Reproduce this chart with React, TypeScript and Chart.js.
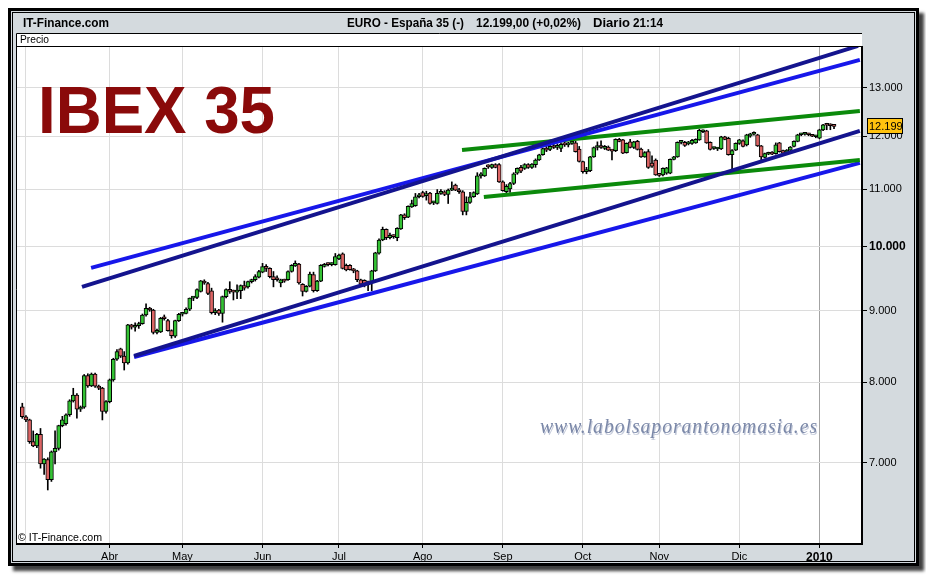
import React, { useEffect, useRef } from 'react';
import { Chart, registerables } from 'chart.js';

Chart.register(...registerables);

// Daily IBEX 35 candles: [open, high, low, close]
type Candle = [number, number, number, number];

const candlesFeb: Candle[] = [[7680, 7725, 7535, 7555]];

const candlesMar: Candle[] = [
  [7555, 7570, 7495, 7515], [7515, 7525, 7230, 7250], [7250, 7380, 7190, 7200], [7200, 7350, 7180, 7340],
  [7340, 7410, 6940, 6990], [6990, 7050, 6870, 7045], [7040, 7060, 6695, 6810], [6810, 7140, 6790, 7130],
  [7130, 7380, 6990, 7170], [7170, 7450, 7150, 7445], [7445, 7560, 7430, 7515], [7470, 7590, 7450, 7580],
  [7580, 7770, 7560, 7755], [7755, 7918, 7740, 7830], [7830, 7850, 7536, 7650], [7650, 7690, 7620, 7675],
  [7675, 8100, 7660, 8085], [8085, 8110, 7930, 7950], [7950, 8120, 7940, 8105], [8105, 8120, 7930, 7945],
  [7945, 7960, 7900, 7920], [7920, 7930, 7515, 7620], [7620, 7760, 7600, 7746],
];

const candlesAbr: Candle[] = [
  [7746, 8040, 7730, 8028], [8028, 8320, 8010, 8306], [8306, 8440, 8290, 8412], [8450, 8460, 8330, 8350],
  [8350, 8412, 8160, 8255], [8255, 8800, 8240, 8790], [8790, 8800, 8730, 8757], [8757, 8820, 8700, 8780],
  [8780, 8830, 8740, 8810], [8810, 8950, 8800, 8936], [8936, 9100, 8920, 9035], [9035, 9050, 8990, 9010],
  [9010, 9020, 8660, 8684], [8684, 8730, 8660, 8700], [8690, 8900, 8680, 8887], [8887, 8936, 8860, 8880],
  [8853, 8870, 8700, 8708], [8708, 8720, 8600, 8636], [8630, 8860, 8610, 8853], [8853, 8960, 8840, 8946],
];

const candlesMay: Candle[] = [
  [8946, 8970, 8920, 8950], [8960, 9040, 8950, 9020], [9020, 9190, 9000, 9187], [9187, 9210, 9150, 9200],
  [9200, 9330, 9180, 9320], [9290, 9460, 9280, 9453], [9440, 9470, 9400, 9420], [9410, 9430, 9240, 9260],
  [9300, 9340, 8950, 8970], [8970, 9030, 8940, 8985], [9010, 9020, 8930, 8960], [8960, 9220, 8830, 9210],
  [9210, 9330, 9190, 9320], [9320, 9440, 9260, 9290], [9290, 9310, 9160, 9280], [9280, 9390, 9180, 9290],
  [9300, 9390, 9180, 9380], [9380, 9450, 9310, 9340], [9360, 9450, 9340, 9440], [9440, 9480, 9420, 9470],
  [9470, 9550, 9450, 9520], [9510, 9620, 9500, 9600],
];

const candlesJun: Candle[] = [
  [9590, 9730, 9580, 9680], [9680, 9710, 9600, 9650], [9650, 9660, 9500, 9520], [9520, 9600, 9360, 9470],
  [9500, 9530, 9450, 9470], [9420, 9480, 9360, 9470], [9460, 9480, 9430, 9450], [9470, 9610, 9460, 9600],
  [9600, 9710, 9590, 9700], [9690, 9770, 9680, 9730], [9720, 9730, 9400, 9420], [9400, 9410, 9220, 9290],
  [9290, 9380, 9280, 9370], [9370, 9590, 9360, 9560], [9550, 9590, 9280, 9300], [9300, 9460, 9290, 9450],
  [9450, 9710, 9440, 9700], [9680, 9730, 9670, 9715], [9715, 9740, 9690, 9710], [9710, 9740, 9690, 9720],
  [9710, 9890, 9700, 9840],
];

const candlesJul: Candle[] = [
  [9800, 9880, 9790, 9865], [9885, 9900, 9640, 9650], [9700, 9720, 9610, 9625], [9700, 9710, 9620, 9630],
  [9620, 9650, 9580, 9610], [9610, 9620, 9440, 9470], [9470, 9480, 9380, 9400], [9460, 9470, 9360, 9400],
  [9440, 9450, 9300, 9390], [9420, 9620, 9300, 9610], [9610, 9910, 9600, 9900], [9895, 10130, 9880, 10110],
  [10114, 10330, 10100, 10290], [10290, 10300, 10120, 10150], [10150, 10230, 10130, 10190], [10190, 10200, 10140, 10170],
  [10150, 10320, 10100, 10310], [10300, 10550, 10290, 10540], [10540, 10560, 10460, 10490], [10500, 10700, 10490, 10690],
  [10680, 10800, 10670, 10740], [10700, 10920, 10690, 10860], [10860, 10920, 10840, 10890],
];

const candlesAgo: Candle[] = [
  [10935, 10960, 10850, 10865], [10880, 10960, 10800, 10890], [10925, 10940, 10730, 10740], [10750, 10780, 10720, 10750],
  [10740, 10990, 10730, 10920], [10920, 10990, 10900, 10950], [10950, 10970, 10880, 10900], [10900, 11000, 10740, 10980],
  [10980, 11130, 10970, 11010], [11070, 11090, 10970, 10980], [10980, 11010, 10920, 10950], [10950, 10970, 10540, 10600],
  [10600, 10860, 10540, 10760], [10760, 10940, 10740, 10860], [10860, 10950, 10850, 10935], [10910, 11300, 10900, 11240],
  [11240, 11300, 11200, 11280], [11240, 11390, 11230, 11380], [11420, 11450, 11380, 11410], [11400, 11460, 11380, 11450],
  [11450, 11470, 11390, 11400], [11450, 11470, 11120, 11130],
];

const candlesSep: Candle[] = [
  [11130, 11150, 10960, 10970], [10950, 11080, 10900, 11050], [11000, 11120, 10940, 11100], [11100, 11300, 11080, 11280],
  [11290, 11390, 11270, 11380], [11400, 11440, 11300, 11330], [11380, 11470, 11360, 11450], [11450, 11470, 11380, 11400],
  [11400, 11470, 11380, 11460], [11450, 11560, 11400, 11540], [11540, 11650, 11530, 11640], [11640, 11770, 11630, 11760],
  [11760, 11800, 11700, 11730], [11740, 11820, 11720, 11800], [11800, 11840, 11760, 11780], [11780, 11850, 11740, 11820],
  [11760, 11870, 11700, 11840], [11840, 11900, 11800, 11830], [11830, 11880, 11790, 11860], [11860, 11930, 11840, 11870],
  [11870, 11900, 11690, 11700], [11750, 11800, 11500, 11510],
];

const candlesOct: Candle[] = [
  [11510, 11520, 11290, 11320], [11320, 11400, 11280, 11350], [11340, 11610, 11320, 11600], [11600, 11790, 11590, 11780],
  [11780, 11890, 11730, 11790], [11790, 11910, 11760, 11780], [11760, 11820, 11740, 11800], [11790, 11810, 11720, 11730],
  [11730, 11740, 11540, 11710], [11720, 11950, 11700, 11940], [11930, 11960, 11890, 11900], [11930, 11940, 11660, 11670],
  [11680, 11870, 11670, 11860], [11890, 11940, 11770, 11780], [11780, 11900, 11760, 11890], [11900, 11920, 11730, 11740],
  [11750, 11770, 11590, 11600], [11600, 11700, 11590, 11680], [11700, 11740, 11380, 11400], [11480, 11620, 11400, 11420],
  [11540, 11560, 11250, 11260],
];

const candlesNov: Candle[] = [
  [11260, 11280, 11230, 11250], [11260, 11390, 11240, 11380], [11290, 11400, 11270, 11390], [11290, 11560, 11280, 11550],
  [11550, 11610, 11540, 11600], [11600, 11890, 11590, 11880], [11880, 11900, 11850, 11880], [11880, 11900, 11800, 11820],
  [11850, 11900, 11830, 11870], [11860, 11940, 11840, 11920], [11870, 11950, 11860, 11940], [11930, 12140, 11920, 12120],
  [12090, 12130, 12070, 12110], [12110, 12120, 11860, 11870], [11880, 11890, 11730, 11740], [11760, 11790, 11740, 11760],
  [11750, 11780, 11720, 11760], [11750, 12000, 11740, 11990], [11990, 12000, 11930, 11940], [11960, 11980, 11630, 11640],
  [11640, 11740, 11350, 11720], [11730, 11870, 11720, 11860],
];

const candlesDic: Candle[] = [
  [11860, 11940, 11840, 11930], [11910, 11930, 11790, 11800], [11830, 12040, 11810, 12030], [12000, 12060, 11980, 12050],
  [12040, 12090, 12020, 12040], [12030, 12040, 11800, 11810], [11810, 11820, 11540, 11600], [11590, 11670, 11580, 11660],
  [11650, 11690, 11640, 11675], [11690, 11700, 11640, 11650], [11660, 11870, 11650, 11830], [11870, 11880, 11690, 11700],
  [11720, 11730, 11660, 11670], [11690, 11740, 11680, 11720], [11730, 11800, 11720, 11790], [11800, 11910, 11790, 11900],
  [11900, 12040, 11890, 12030], [12030, 12060, 12010, 12030], [12040, 12080, 12020, 12050], [12040, 12060, 12010, 12030],
  [12020, 12040, 11990, 12000], [11990, 12020, 11970, 11990],
];

const candlesEne: Candle[] = [
  [11960, 12140, 11950, 12128], [12128, 12240, 12110, 12230], [12230, 12260, 12130, 12220], [12220, 12250, 12130, 12210],
  [12205, 12230, 12150, 12199],
];

// Month blocks that get a grid line and label on the time axis
const monthLabels = ['', 'Abr', 'May', 'Jun', 'Jul', 'Ago', 'Sep', 'Oct', 'Nov', 'Dic', '2010'];
const monthCandles = [
  candlesMar, candlesAbr, candlesMay, candlesJun, candlesJul,
  candlesAgo, candlesSep, candlesOct, candlesNov, candlesDic, candlesEne,
];

const priceTicks = [7000, 8000, 9000, 10000, 11000, 12000, 13000];

// Trend channels, as [session index, price] end points
const navyUpper = [{ x: 16.4, y: 9360 }, { x: 229.6, y: 13928 }];
const blueUpper = [{ x: 18.9, y: 9657 }, { x: 230.1, y: 13611 }];
const navyLower = [{ x: 30.7, y: 8352 }, { x: 230.1, y: 12107 }];
const blueLower = [{ x: 30.7, y: 8338 }, { x: 230.1, y: 11484 }];
const greenUpper = [{ x: 120.8, y: 11733 }, { x: 230.1, y: 12513 }];
const greenLower = [{ x: 126.8, y: 10857 }, { x: 230.1, y: 11541 }];

const W = 926;
const H = 576;
const PANEL = '#d4dade';
const SANS = '"Liberation Sans", Arial, sans-serif';
const UP = '#34c234';
const DOWN = '#dc6464';

function thousands(v: number): string {
  return Math.round(v).toString().replace(/\B(?=(\d{3})+(?!\d))/g, '.');
}

function fittedText(
  ctx: CanvasRenderingContext2D, text: string, x: number, y: number,
  width: number, font: string, color: string,
) {
  ctx.save();
  ctx.font = font;
  ctx.fillStyle = color;
  ctx.textBaseline = 'alphabetic';
  ctx.textAlign = 'left';
  const w = ctx.measureText(text).width;
  ctx.translate(x, y);
  ctx.scale(width / w, 1);
  ctx.fillText(text, 0, 0);
  ctx.restore();
}

export default function App() {
  const canvasRef = useRef<HTMLCanvasElement | null>(null);

  useEffect(() => {
    document.body.style.margin = '0';
    document.body.style.overflow = 'hidden';
    const canvas = canvasRef.current;
    if (!canvas) return;

    const candles: Candle[] = [...candlesFeb, ...monthCandles.flat()];
    const monthStarts: number[] = [];
    let start = candlesFeb.length;
    for (const m of monthCandles) {
      monthStarts.push(start);
      start += m.length;
    }
    const lastClose = candles[candles.length - 1][3];

    const wickData = candles.map((c, i) => ({ x: i, y: [c[2], c[1]] }));
    const bodyData = candles.map((c, i) => ({ x: i, y: [c[0], c[3]] }));
    const bodyColors = candles.map((c) => (c[3] >= c[0] ? UP : DOWN));

    const trend = (data: { x: number; y: number }[], color: string, order: number) => ({
      type: 'line' as const,
      data,
      borderColor: color,
      borderWidth: 4,
      pointRadius: 0,
      fill: false,
      tension: 0,
      borderCapStyle: 'butt' as const,
      order,
    });

    const framePlugin = {
      id: 'frame',
      beforeDraw(chart: Chart) {
        const ctx = chart.ctx;
        ctx.save();
        ctx.fillStyle = '#ffffff';
        ctx.fillRect(0, 0, W, H);
        // outer frame with drop shadow
        ctx.shadowColor = 'rgba(0,0,0,0.75)';
        ctx.shadowBlur = 3;
        ctx.shadowOffsetX = 5;
        ctx.shadowOffsetY = 5;
        ctx.fillStyle = '#000';
        ctx.fillRect(8, 8, 911, 558);
        ctx.shadowColor = 'transparent';
        ctx.fillStyle = PANEL;
        ctx.fillRect(11, 11, 905, 552);
        ctx.strokeStyle = '#000';
        ctx.lineWidth = 1;
        ctx.strokeRect(12.5, 12.5, 902, 549);
        // price panel
        ctx.fillStyle = '#ffffff';
        ctx.fillRect(16, 33, 846, 512);
        ctx.beginPath();
        ctx.moveTo(16.5, 545);
        ctx.lineTo(16.5, 33.5);
        ctx.lineTo(862, 33.5);
        ctx.moveTo(16, 46.5);
        ctx.lineTo(862, 46.5);
        ctx.stroke();
        // header
        fittedText(ctx, 'IT-Finance.com', 23, 27, 86, `bold 13px ${SANS}`, '#000');
        fittedText(ctx, 'EURO - España 35 (-)', 347, 27, 117, `bold 13px ${SANS}`, '#000');
        fittedText(ctx, '12.199,00 (+0,02%)', 476, 27, 105, `bold 13px ${SANS}`, '#000');
        fittedText(ctx, 'Diario', 593, 27, 37, `bold 13px ${SANS}`, '#000');
        fittedText(ctx, '21:14', 633, 27, 30, `bold 13px ${SANS}`, '#000');
        fittedText(ctx, 'Precio', 20, 43, 29, `10px ${SANS}`, '#000');
        ctx.restore();
      },
      afterDraw(chart: Chart) {
        const ctx = chart.ctx;
        const yScale = chart.scales.y;
        ctx.save();
        fittedText(ctx, 'IBEX 35', 38, 133, 237, `bold 67px ${SANS}`, '#8a0a0a');
        fittedText(ctx, '© IT-Finance.com', 18, 541, 84, `11px ${SANS}`, '#000');

        // site watermark
        ctx.font = 'italic 20px "Liberation Serif", "Times New Roman", serif';
        const wm = 'www.labolsaporantonomasia.es';
        (ctx as any).letterSpacing = '1px';
        const wmW = ctx.measureText(wm).width;
        ctx.save();
        ctx.translate(540, 433);
        ctx.scale(278 / wmW, 1);
        ctx.fillStyle = 'rgba(150,160,190,0.55)';
        ctx.fillText(wm, 1, 1.5);
        ctx.fillStyle = '#7b88a8';
        ctx.fillText(wm, 0, 0);
        ctx.restore();
        (ctx as any).letterSpacing = '0px';

        // last price tag on the price axis
        const py = Math.round(yScale.getPixelForValue(lastClose));
        ctx.fillStyle = '#ffc20e';
        ctx.fillRect(867, py - 8, 36, 16);
        ctx.strokeStyle = '#000';
        ctx.lineWidth = 1;
        ctx.strokeRect(867.5, py - 7.5, 35, 15);
        ctx.fillStyle = '#000';
        ctx.font = `11px ${SANS}`;
        ctx.textBaseline = 'middle';
        ctx.textAlign = 'left';
        ctx.fillText(thousands(lastClose), 869, py + 0.5);
        ctx.restore();
      },
    };

    const chart = new Chart(canvas, {
      type: 'bar',
      data: {
        datasets: [
          trend(navyUpper, '#14148e', 0),
          trend(blueUpper, '#1717ea', 0),
          trend(blueLower, '#1717ea', 1),
          trend(navyLower, '#14148e', 0),
          trend(greenUpper, '#0b8a0b', 0),
          trend(greenLower, '#0b8a0b', 0),
          {
            type: 'bar',
            data: bodyData as any,
            backgroundColor: bodyColors,
            borderColor: '#000',
            borderWidth: 1,
            borderSkipped: false,
            barThickness: 4,
            minBarLength: 2,
            grouped: false,
            order: 2,
          } as any,
          {
            type: 'bar',
            data: wickData as any,
            backgroundColor: '#000',
            borderWidth: 0,
            barThickness: 1,
            grouped: false,
            order: 3,
          } as any,
        ],
      },
      options: {
        animation: false,
        responsive: false,
        devicePixelRatio: 1,
        events: [],
        layout: { padding: { left: 17, top: 47, right: 0, bottom: 0 } },
        plugins: { legend: { display: false }, tooltip: { enabled: false } },
        scales: {
          x: {
            type: 'linear',
            min: -1.456,
            max: 230.69,
            bounds: 'data',
            offset: false,
            grid: {
              offset: false,
              lineWidth: 1,
              color: (ctx: any) => (ctx.index === monthLabels.length - 1 ? '#a3a3a3' : '#dcdcdc'),
              tickColor: (ctx: any) => (ctx.index === 0 ? 'rgba(0,0,0,0)' : '#000'),
              tickLength: 4,
            },
            border: { display: true, color: '#000', width: 2 },
            afterBuildTicks: (scale: any) => {
              scale.ticks = monthStarts.map((v) => ({ value: v }));
            },
            afterFit: (scale: any) => {
              scale.height = 32;
            },
            ticks: {
              autoSkip: false,
              maxRotation: 0,
              minRotation: 0,
              padding: 2,
              color: '#000',
              font: (ctx: any) =>
                ctx.index === monthLabels.length - 1
                  ? { family: SANS, size: 12, weight: 'bold' }
                  : { family: SANS, size: 11, weight: 'normal' },
              callback: (_v: any, i: number) => monthLabels[i] ?? '',
            },
          },
          y: {
            type: 'logarithmic',
            position: 'right',
            min: 6124,
            max: 13904,
            bounds: 'data',
            grid: { color: '#dcdcdc', tickColor: '#000', tickLength: 5, lineWidth: 1 },
            border: { display: true, color: '#000', width: 2 },
            afterBuildTicks: (scale: any) => {
              scale.ticks = priceTicks.map((v) => ({ value: v }));
            },
            afterFit: (scale: any) => {
              scale.width = 64;
            },
            ticks: {
              autoSkip: false,
              padding: 2,
              color: '#000',
              font: (ctx: any) =>
                ctx.tick && ctx.tick.value === 10000
                  ? { family: SANS, size: 12, weight: 'bold' }
                  : { family: SANS, size: 11, weight: 'normal' },
              callback: (v: any) => thousands(Number(v)),
            },
          },
        },
      } as any,
      plugins: [framePlugin],
    });

    return () => chart.destroy();
  }, []);

  return (
    <canvas
      ref={canvasRef}
      width={W}
      height={H}
      style={{ position: 'absolute', left: 0, top: 0, width: W, height: H }}
    />
  );
}
